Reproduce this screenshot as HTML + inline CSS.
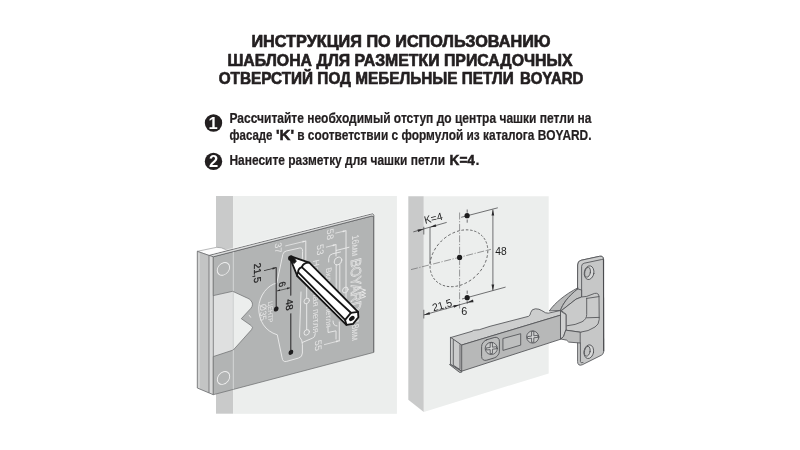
<!DOCTYPE html>
<html lang="ru"><head><meta charset="utf-8"><title>Инструкция BOYARD</title>
<style>
html,body{margin:0;padding:0;background:#fff;width:800px;height:450px;overflow:hidden}
svg{display:block;position:absolute;left:0;top:0;will-change:transform}
text{font-family:"Liberation Sans",sans-serif}
</style></head><body>
<svg width="800" height="450" viewBox="0 0 800 450">
<rect width="800" height="450" fill="#fff"/>
<g font-weight="bold" font-size="15.9" fill="#231f20" stroke="#231f20" stroke-width="0.65" stroke-linejoin="round">
<text x="251.4" y="47.4" textLength="299.2" lengthAdjust="spacingAndGlyphs">ИНСТРУКЦИЯ ПО ИСПОЛЬЗОВАНИЮ</text>
<text x="227.4" y="65.7" textLength="345.2" lengthAdjust="spacingAndGlyphs">ШАБЛОНА ДЛЯ РАЗМЕТКИ ПРИСАДОЧНЫХ</text>
<text x="218.7" y="83.7" textLength="295" lengthAdjust="spacingAndGlyphs">ОТВЕРСТИЙ ПОД МЕБЕЛЬНЫЕ ПЕТЛИ</text>
<text x="519.9" y="83.7" textLength="63.5" lengthAdjust="spacingAndGlyphs">BOYARD</text>
</g>
<g font-weight="bold" font-size="14.2" fill="#231f20" stroke="#231f20" stroke-width="0.22">
<text x="229.5" y="123.3" textLength="362" lengthAdjust="spacingAndGlyphs">Рассчитайте необходимый отступ до центра чашки петли на</text>
<text x="229.5" y="139.8" textLength="42.9" lengthAdjust="spacingAndGlyphs">фасаде</text>
<text x="275.9" y="139.8" textLength="18.1" lengthAdjust="spacingAndGlyphs" stroke="#231f20" stroke-width="0.5">'K'</text>
<text x="297.2" y="139.8" textLength="294.3" lengthAdjust="spacingAndGlyphs">в соответствии с формулой из каталога BOYARD.</text>
<text x="229.5" y="164.5" textLength="215.5" lengthAdjust="spacingAndGlyphs">Нанесите разметку для чашки петли</text>
<text x="449.6" y="164.5" textLength="25.3" lengthAdjust="spacingAndGlyphs" stroke="#231f20" stroke-width="0.55">K=4</text>
<text x="475.4" y="164.5">.</text>
</g>
<circle cx="213.5" cy="123" r="8.7" fill="#231f20"/>
<circle cx="213.5" cy="161.4" r="8.7" fill="#231f20"/>
<g font-weight="bold" font-size="16.5" fill="#fff" text-anchor="middle">
<text x="213" y="129">1</text>
<text x="213.5" y="167.3">2</text>
</g>
<g id="left">
<rect x="216" y="196" width="17.2" height="217.7" fill="#c9caca"/>
<rect x="233.2" y="196" width="163.7" height="217.8" fill="#eceeed"/>
<polygon points="213.3,295 233.3,290.5 233.3,351 213.3,357" fill="#dfe0e0"/>
<line x1="233.3" y1="291" x2="233.3" y2="350" stroke="#c4c5c5" stroke-width="0.7"/>
<polygon points="197.3,251.3 216.7,247.3 221.3,247.8 228,250.6 209.3,255.6" fill="#fcfcfc" stroke="#8a8b8d" stroke-width="0.6" stroke-linejoin="round"/>
<polygon points="197.3,251.3 209,255.4 209,392.9 197.3,388" fill="#c3c4c4"/>
<polygon points="197.8,251.6 200,252.3 200,389.2 197.8,388.2" fill="#d2d3d3"/>
<polygon points="209,255.4 213.3,256.6 213.3,394.7 209,392.9" fill="#d9dada"/>
<path d="M197.3,251.3 L197.3,388 L213.3,394.7 M209,255.4 L209,392.9 M213.3,256.6 L213.3,394.7 M197.3,251.3 L209.3,255.5" fill="none" stroke="#6a6b6d" stroke-width="0.8"/>
<path d="M213.3,256.6 L372,216 Q373.7,215.6 373.7,217.3 L373.7,352.4 L213.3,394.7 L213.3,356.6 L233.3,350 L251.6,329.6 Q253.6,327.2 251.2,325.6 L241.3,318.7 L251,308.2 Q254.2,304.2 250.6,300.2 Q249.6,299 247.6,298.2 L232.7,291.3 L213.3,295.6 Z" fill="#b2b4b4" stroke="#6a6b6d" stroke-width="0.7" stroke-linejoin="round"/>
<polygon points="209.3,255.3 372.6,213.7 373.9,215.2 373.7,217 372,216 213.3,256.8" fill="#dcdddd" stroke="#5c5d5f" stroke-width="0.8" stroke-linejoin="round"/>
<line x1="209.3" y1="254.3" x2="372.4" y2="212.8" stroke="#f8f8f8" stroke-width="0.6"/>
<path d="M233.3,251.8 L233.3,291.2 M233.3,350 L233.3,389.3" stroke="#e4e5e5" stroke-width="0.7" fill="none"/>
<path d="M373.6,216.5 L373.6,352.2" stroke="#737476" stroke-width="1.2" fill="none"/>
<g transform="matrix(1,-0.259,0,1,0,55.245)">
<circle cx="223.4" cy="271.5" r="6.2" fill="none" stroke="#f0f0f0" stroke-width="0.9"/>
<circle cx="223.5" cy="380.6" r="6.2" fill="none" stroke="#f0f0f0" stroke-width="0.9"/>
<path d="M249.2,324.5 L250.6,326.9" fill="none" stroke="#ececec" stroke-width="0.85" stroke-linecap="round" stroke-linejoin="round"/>
<path d="M302.2,286.0 L302.6,274.6 Q302.7,270.6 299.8,270.4 L286.3,269.9 Q283.2,269.9 282.8,272.5 L276.8,299.6 C268.0,298.8 259.0,307.3 258.7,319.8 C258.9,332.8 265.0,344.4 277.3,351.4 L282.0,375.3 Q282.8,380.4 286.3,380.4 L298.5,380.1 Q302.4,380.1 302.4,376.1 L302.4,367.6 Q302.4,362.6 299.5,359.3 L301.0,314.7 M302.4,365.5 L312.3,363.9 Q315.3,363.9 315.3,360.0" fill="none" stroke="#ececec" stroke-width="0.85" stroke-linecap="round" stroke-linejoin="round"/>
<circle cx="306.7" cy="325.2" r="2.7" fill="none" stroke="#ececec" stroke-width="0.85" stroke-linecap="round" stroke-linejoin="round"/><circle cx="306.7" cy="356.6" r="2.7" fill="none" stroke="#ececec" stroke-width="0.85" stroke-linecap="round" stroke-linejoin="round"/>
<path d="M306.7,327.9 L306.7,353.9 M306.7,322.5 L306.7,304.2" fill="none" stroke="#ececec" stroke-width="0.85" stroke-linecap="round" stroke-linejoin="round"/>
<text transform="translate(278.7,264.9) rotate(90)" font-size="9.5" fill="#e4e4e4" text-anchor="middle" dy="0.35em" >37</text>
<line x1="285.3" y1="264.6" x2="305.8" y2="265.0" stroke="#ececec" stroke-width="0.7"/><polygon points="305.8,265.0 302.6,265.9 302.6,263.9" fill="#ececec"/>
<path d="M305.8,265.0 L305.8,286.0" fill="none" stroke="#ececec" stroke-width="0.85" stroke-linecap="round" stroke-linejoin="round"/>
<text transform="translate(330.0,264.5) rotate(90)" font-size="9.5" fill="#e4e4e4" text-anchor="middle" dy="0.35em" >58</text>
<line x1="335.3" y1="264.8" x2="346.0" y2="265.1" stroke="#ececec" stroke-width="0.7"/><polygon points="346.0,265.1 342.8,266.0 342.8,264.0" fill="#ececec"/>
<path d="M346.0,265.1 L346.0,334.4" fill="none" stroke="#ececec" stroke-width="0.85" stroke-linecap="round" stroke-linejoin="round"/>
<text transform="translate(320.3,277.4) rotate(90)" font-size="9.5" fill="#e4e4e4" text-anchor="middle" dy="0.35em" >53</text>
<line x1="326.0" y1="276.4" x2="336.0" y2="276.4" stroke="#ececec" stroke-width="0.7"/><polygon points="336.0,276.4 332.8,277.4 332.8,275.4" fill="#ececec"/>
<path d="M336.0,276.4 L336.0,287.8 M336.3,282.3 L349.0,282.4" fill="none" stroke="#ececec" stroke-width="0.85" stroke-linecap="round" stroke-linejoin="round"/>
<circle cx="338" cy="293.3" r="3.8" fill="none" stroke="#ececec" stroke-width="0.85" stroke-linecap="round" stroke-linejoin="round"/>
<path d="M336.2,296.2 L336.2,323.8 M339.8,297.2 L339.8,324.8 M328.7,291.9 L328.7,288.4 Q328.9,284.5 332.6,284.7 L340.5,284.9" fill="none" stroke="#ececec" stroke-width="0.85" stroke-linecap="round" stroke-linejoin="round"/>
<text transform="translate(328.8,327.4) rotate(90)" font-size="8" fill="#e4e4e4" text-anchor="middle" dy="0.35em" textLength="60" lengthAdjust="spacingAndGlyphs">Вкладная петля</text>
<text transform="translate(315.7,322.8) rotate(90)" font-size="9" fill="#e4e4e4" text-anchor="middle" dy="0.35em" textLength="73" lengthAdjust="spacingAndGlyphs">Накладная петля</text>
<text transform="translate(355.2,282.1) rotate(90)" font-size="10" fill="#e4e4e4" text-anchor="middle" dy="0.35em" textLength="21" lengthAdjust="spacingAndGlyphs">16мм</text>
<text transform="translate(356.4,321.7) rotate(90)" font-size="14.5" fill="none" stroke="#ececec" stroke-width="0.6" text-anchor="middle" dy="0.35em" textLength="52" lengthAdjust="spacingAndGlyphs">BOYARD</text>
<text transform="translate(355.2,366.7) rotate(90)" font-size="10" fill="#e4e4e4" text-anchor="middle" dy="0.35em" textLength="21" lengthAdjust="spacingAndGlyphs">18мм</text>
<path d="M361.0,326.9 L365.6,329.6 L361.6,330.2 L365.6,332.8 L361.6,333.4 L365.6,336.0 L361.0,336.5" fill="none" stroke="#ececec" stroke-width="0.85" stroke-linecap="round" stroke-linejoin="round"/>
<circle cx="345.3" cy="324.2" r="2.8" fill="none" stroke="#ececec" stroke-width="0.85" stroke-linecap="round" stroke-linejoin="round"/>
<path d="M328.0,357.2 L328.0,362.2 L336.0,362.6 L336.0,370.8 M339.3,354.6 L339.3,373.6 M333.0,352.0 Q333.0,357.0 337.0,358.0" fill="none" stroke="#ececec" stroke-width="0.85" stroke-linecap="round" stroke-linejoin="round"/>
<text transform="translate(318.7,372.6) rotate(90)" font-size="9.5" fill="#e4e4e4" text-anchor="middle" dy="0.35em" >55</text>
<line x1="324.0" y1="373.4" x2="339.3" y2="373.4" stroke="#ececec" stroke-width="0.7"/><polygon points="339.3,373.4 336.1,374.4 336.1,372.4" fill="#ececec"/>
<text transform="translate(270.1,326.7) rotate(90)" font-size="6.8" fill="#e4e4e4" text-anchor="middle" dy="0.35em" textLength="21" lengthAdjust="spacingAndGlyphs">ЦЕНТР</text>
<text transform="translate(263.6,325.3) rotate(90)" font-size="9.2" fill="#e4e4e4" text-anchor="middle" dy="0.35em" textLength="16.7" lengthAdjust="spacingAndGlyphs">Ø35</text>
<text transform="translate(258.0,284.4) rotate(90)" font-size="10" fill="#1f1e1f" text-anchor="middle" dy="0.35em" stroke="#1f1e1f" stroke-width="0.25">21,5</text>
<line x1="264.0" y1="283.8" x2="276.2" y2="283.9" stroke="#2b2a2b" stroke-width="0.9"/><polygon points="276.2,283.9 272.6,285.0 272.6,282.8" fill="#2b2a2b"/>
<path d="M276.2,283.7 L276.2,324.8 M290.8,278.1 L290.8,315.6 M290.8,333.5 L290.8,372.1" fill="none" stroke="#2b2a2b" stroke-width="1.05"/>
<circle cx="276.2" cy="325.3" r="2.4" fill="#1f1e1f"/><circle cx="290.8" cy="278.1" r="2.5" fill="#1f1e1f"/><circle cx="290.9" cy="372.5" r="2.4" fill="#1f1e1f"/>
<text transform="translate(290.0,324.4) rotate(90)" font-size="10" fill="#1f1e1f" text-anchor="middle" dy="0.35em" stroke="#1f1e1f" stroke-width="0.25">48</text>
<text transform="translate(282.2,302.1) rotate(90)" font-size="9.4" fill="#1f1e1f" text-anchor="middle" dy="0.35em" stroke="#1f1e1f" stroke-width="0.2">6</text>
<line x1="277.0" y1="307.5" x2="290.0" y2="307.7" stroke="#2b2a2b" stroke-width="0.6"/><polygon points="290.0,307.7 287.0,308.5 287.0,306.7" fill="#2b2a2b"/><polygon points="277.0,307.5 280.0,306.6 280.0,308.4" fill="#2b2a2b"/>
</g>
<g stroke="#161616" stroke-width="1.85" stroke-linejoin="round" stroke-linecap="round">
<path d="M291.6,256.6 L309.3,262.7 L358,311.9 L358.4,317.2 L353.1,323.9 L346.4,324.8 L297.3,276 L290.6,259.5 Z" fill="#fff"/>
<path d="M309.3,262.7 Q303.5,262.5 301.8,267.1 Q297.8,268.5 298.2,272.4 Q296.5,274 297.3,276" fill="none"/>
<path d="M301.8,267.1 L350.9,312.8 M298.2,272.4 L345.1,319.9" fill="none"/>
<path d="M358,311.9 L350.9,312.8 L345.1,319.9 L346.4,324.8" fill="none"/>
<path d="M290.5,258 L293.8,257.2 L296.3,261.2 L294.2,263.6 L291.6,261.8 Z" fill="#161616" stroke-width="0.8"/>
</g>
<ellipse cx="351.8" cy="318.5" rx="3.2" ry="2.1" transform="rotate(-40 351.8 318.5)" fill="#161616"/>
<circle cx="290.7" cy="258" r="2.5" fill="#161616"/>
</g>
<g id="right">
<polygon points="408.3,196.3 423.8,196.3 423.8,411.9 408.3,399.8" fill="#c9caca"/>
<polygon points="423.8,196.3 548.7,196.3 548.7,373.4 423.8,411.9" fill="#eceeed"/>
<g transform="matrix(1,-0.262,0,1,0,120.2)">
<ellipse cx="458.9" cy="258.3" rx="28.9" ry="27.4" fill="none" stroke="#3a3a3c" stroke-width="0.7" stroke-dasharray="2.6 1.9"/>
</g>
<path d="M459.6,212.5 L459.6,308.5" fill="none" stroke="#5a5a5c" stroke-width="0.6" stroke-dasharray="7 1.6 1.2 1.6"/>
<path d="M411,269.6 L491,249.3" fill="none" stroke="#5a5a5c" stroke-width="0.6" stroke-dasharray="7 1.6 1.2 1.6"/>
<path d="M467.2,209.5 L467.2,223.8 M467.2,290.6 L467.2,304" fill="none" stroke="#3a3a3c" stroke-width="0.7" stroke-dasharray="3.2 1.8"/>
<path d="M461.2,217.3 L497.8,207.8 M462,299 L505.6,287.1 M492.9,209.6 L492.9,290.4 M430,227 L430,263.3 M423.8,226.8 L423.8,234.5 M413.3,231.9 L446.7,222.4 M423.8,309.8 L423.8,318.5 M423.8,315 L473.3,300.9" fill="none" stroke="#3a3a3c" stroke-width="0.7"/>
<polygon points="492.9,209.4 494.2,215.6 491.5,215.6" fill="#2b2a2c"/><polygon points="492.9,290.7 491.5,284.5 494.2,284.5" fill="#2b2a2c"/>
<polygon points="423.8,229.0 418.2,232.0 417.5,229.4" fill="#2b2a2c"/><polygon points="430.0,227.2 435.6,224.2 436.3,226.8" fill="#2b2a2c"/>
<polygon points="423.8,315.0 429.4,312.0 430.1,314.6" fill="#2b2a2c"/><polygon points="459.6,304.8 454.0,307.8 453.3,305.2" fill="#2b2a2c"/><polygon points="467.2,302.6 472.8,299.6 473.5,302.2" fill="#2b2a2c"/>
<circle cx="467.1" cy="215.7" r="2.6" fill="#1d1d1e"/><circle cx="459.6" cy="257.4" r="2.6" fill="#1d1d1e"/><circle cx="467.2" cy="297.7" r="2.6" fill="#1d1d1e"/>
<g font-size="10.8" fill="#1d1d1e">
<text transform="translate(425.3,224.1) rotate(-14.5)" textLength="18.4" lengthAdjust="spacingAndGlyphs">K=4</text>
<text x="495.2" y="254.7" textLength="11.4" lengthAdjust="spacingAndGlyphs">48</text>
<text transform="translate(433.5,311.5) rotate(-16)" textLength="20" lengthAdjust="spacingAndGlyphs">21,5</text>
<text x="461.3" y="315" >6</text>
</g>
<path d="M450.8,337.5 L472,331.3 L473.6,330.3 L479.3,329.7 L490,326.3 L528.6,316.3 Q530.2,315.8 530.8,312.3 Q531.6,309 535.5,308.8 Q539.3,308.8 541.8,310.6 Q546,313.6 548.2,313.2 L561,310.4 L561,315 L461.7,345 Z" fill="#cdcece" stroke="#505155" stroke-width="0.85" stroke-linejoin="round" stroke-linecap="round"/>
<path d="M461.7,345 L561,315 L561,339.1 L461.7,371.2 Z" fill="#b7b8b8" stroke="#505155" stroke-width="0.85" stroke-linejoin="round" stroke-linecap="round"/>
<path d="M450.8,337.5 L461.7,345 L461.7,371.2 L450.8,364.6 Z" fill="#cbcccc" stroke="#505155" stroke-width="0.85" stroke-linejoin="round" stroke-linecap="round"/>
<path d="M453.3,339.8 L453.3,365.2 L460,369.6 L460,344.6" fill="none" stroke="#505155" stroke-width="0.85" stroke-linejoin="round" stroke-linecap="round"/>
<path d="M449.8,364.8 L459.6,372.4 L461.7,372.2 L461.7,371.2 L450.8,364.6 Z" fill="#a9aaaa" stroke="#505155" stroke-width="0.85" stroke-linejoin="round" stroke-linecap="round"/>
<g transform="matrix(1,-0.3,0,1,0,147.2)">
<rect x="481.6" y="338.6" width="17.8" height="20.4" rx="5.2" ry="5.2" fill="#bdbebe" stroke="#505155" stroke-width="0.85" stroke-linejoin="round" stroke-linecap="round"/>
</g>
<circle cx="491.3" cy="348.4" r="6.1" fill="#c9caca" stroke="#505155" stroke-width="0.85" stroke-linejoin="round" stroke-linecap="round"/><path d="M490.2,343.19999999999993 L490.2,347.5 L486.09999999999997,348.0 L486.09999999999997,350.0 L490.2,349.59999999999997 L490.2,353.8 L492.40000000000003,353.5 L492.40000000000003,349.2 L496.50000000000006,348.7 L496.50000000000006,346.7 L492.40000000000003,347.2 L492.40000000000003,342.99999999999994 Z" fill="#d6d7d7" stroke="#505155" stroke-width="0.85" stroke-linejoin="round" stroke-linecap="round"/>
<circle cx="532.7" cy="337" r="6.1" fill="#c9caca" stroke="#505155" stroke-width="0.85" stroke-linejoin="round" stroke-linecap="round"/><path d="M531.6,331.79999999999995 L531.6,336.1 L527.5,336.6 L527.5,338.6 L531.6,338.2 L531.6,342.40000000000003 L533.8000000000001,342.1 L533.8000000000001,337.8 L537.9000000000001,337.3 L537.9000000000001,335.3 L533.8000000000001,335.8 L533.8000000000001,331.59999999999997 Z" fill="#d6d7d7" stroke="#505155" stroke-width="0.85" stroke-linejoin="round" stroke-linecap="round"/>
<path d="M503.3,338.4 L520.7,333.7 L520.7,345.1 L503.3,350.3 Z" fill="#bebfbf" stroke="#505155" stroke-width="0.85" stroke-linejoin="round" stroke-linecap="round"/>
<path d="M577.7,264.6 Q577.7,261 581,260.3 L599.6,256.3 Q603.2,255.6 603.4,259.2 L603.7,351.3 Q603.7,354 601.4,355.2 L582.2,364.8 Q577.8,366.4 577.6,362 Z" fill="#c6c7c7" stroke="#505155" stroke-width="0.85" stroke-linejoin="round" stroke-linecap="round"/>
<path d="M577.7,264.6 Q577.7,261 581,260.3 L599.6,256.3 Q603.2,255.6 603.4,259.2 L601.3,259.6 L584.2,263.2 Q581.6,263.8 581.6,266.4 L581.6,332 L577.7,332 Z" fill="#cccdcd" stroke="#505155" stroke-width="0.85" stroke-linejoin="round" stroke-linecap="round"/>
<path d="M603.55,259.2 L603.7,351.3" stroke="#4a4b4e" stroke-width="1.1" fill="none"/>
<path d="M580.4,343 L580.4,361.5 Q580.6,363.6 583,362.6" fill="none" stroke="#505155" stroke-width="0.85" stroke-linejoin="round" stroke-linecap="round"/>
<ellipse cx="589.1" cy="272.7" rx="4.8" ry="6.9" transform="rotate(10 589.1 272.7)" fill="#d6d7d7" stroke="#505155" stroke-width="0.85" stroke-linejoin="round" stroke-linecap="round"/><ellipse cx="587.6" cy="272.2" rx="2.8" ry="5" transform="rotate(10 587.6 272.2)" fill="#c2c3c3" stroke="#505155" stroke-width="0.85" stroke-linejoin="round" stroke-linecap="round"/>
<ellipse cx="588.8" cy="351.7" rx="4.8" ry="6.9" transform="rotate(10 588.8 351.7)" fill="#d6d7d7" stroke="#505155" stroke-width="0.85" stroke-linejoin="round" stroke-linecap="round"/><ellipse cx="587.3" cy="351.2" rx="2.8" ry="5" transform="rotate(10 587.3 351.2)" fill="#c2c3c3" stroke="#505155" stroke-width="0.85" stroke-linejoin="round" stroke-linecap="round"/>
<path d="M577.7,287.9 C565,294.5 554.7,303 549.3,311 L560.6,310.4 C562.2,304.6 568,296.4 577.7,288.9 Z" fill="#b8b9b9" stroke="#505155" stroke-width="0.85" stroke-linejoin="round" stroke-linecap="round"/>
<path d="M577.7,288.9 C568,296.4 562.2,304.6 560.6,310.4 L561.7,310.4 L576,299.2 L581.6,297 L581.6,290 L577.7,288.9 Z" fill="#bfc0c0" stroke="#505155" stroke-width="0.85" stroke-linejoin="round" stroke-linecap="round"/>
<path d="M561.7,310.4 L576,299.2 L581.5,297 L586.7,296.4 L594.6,293.4 Q598.9,292.6 599,296.8 L599.2,319.5 Q599,324.6 595,327 Q588.5,331.5 580.2,332.2 L566,330.2 L566,314.6 Z" fill="#c9caca" stroke="#505155" stroke-width="0.85" stroke-linejoin="round" stroke-linecap="round"/>
<path d="M567,325.8 Q576,325 582,321.8 Q586.7,319.2 586.7,314.5 L586.7,298.2 M586.7,298.4 L599,296.6 M586.7,317.8 L599.2,317.4" fill="none" stroke="#505155" stroke-width="0.85" stroke-linejoin="round" stroke-linecap="round"/>
<path d="M560.8,311.2 L566,314.6 L566,330.2 L563.4,336.6 L560.8,338.8 Z" fill="#d0d1d1" stroke="#505155" stroke-width="0.85" stroke-linejoin="round" stroke-linecap="round"/>
<path d="M566,330.2 L580.2,332.2 L580.2,343 L568.7,342.1 L566.7,340.2 L561,339 L563.4,336.6 Z" fill="#bdbebe" stroke="#505155" stroke-width="0.85" stroke-linejoin="round" stroke-linecap="round"/>
</g>
</svg></body></html>
